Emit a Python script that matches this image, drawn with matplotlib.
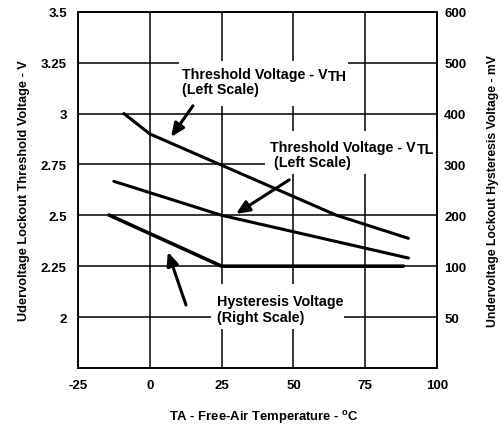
import matplotlib
matplotlib.use("Agg")
import matplotlib.pyplot as plt
from matplotlib.patches import Rectangle

plt.rcParams['font.family'] = ['Liberation Sans', 'DejaVu Sans']
plt.rcParams['font.weight'] = 'bold'
plt.rcParams['axes.labelweight'] = 'bold'
plt.rcParams['mathtext.fontset'] = 'custom'
plt.rcParams['mathtext.rm'] = 'Liberation Sans:bold'
plt.rcParams['mathtext.bf'] = 'Liberation Sans:bold'
plt.rcParams['mathtext.it'] = 'Liberation Sans:bold'

# Data
vth_temp = [-9, 0, 65, 90]
vth_volt = [3.0, 2.90, 2.50, 2.387]
vtl_temp = [-12.5, 25, 90]
vtl_volt = [2.667, 2.50, 2.29]
hyst_temp = [-14, 25, 88]
hyst_mv = [200, 100, 100]

x_ticks = [-25, 0, 25, 50, 75, 100]
left_ticks = [2.0, 2.25, 2.5, 2.75, 3.0, 3.25, 3.5]
left_labels = ['2', '2.25', '2.5', '2.75', '3', '3.25', '3.5']
right_ticks = [0, 100, 200, 300, 400, 500, 600]
right_labels = ['50', '100', '200', '300', '400', '500', '600']

FS = 10.3

fig = plt.figure(figsize=(5.03, 4.27), dpi=100)
ax = fig.add_axes([0.155, 0.136, 0.714, 0.834])
ax.set_xlim(-25, 100)
ax.set_ylim(1.75, 3.5)
ax.set_xticks(x_ticks)
ax.set_xticklabels([str(t) for t in x_ticks], fontweight='bold')
ax.set_yticks([1.75] + left_ticks)
ax.set_yticklabels([''] + left_labels, fontweight='bold')
ax.grid(True, color='black', lw=1.1, zorder=0)
ax.set_axisbelow(True)
ax.tick_params(length=0, labelsize=9.5, pad=8)
for s in ax.spines.values():
    s.set_linewidth(1.1)

# white masks behind the annotations (cover the grid)
for (x0, y0, x1, y1) in [(10.2, 3.038, 69.0, 3.259),
                         (40.1, 2.704, 100.0, 2.915),
                         (21.3, 1.942, 67.6, 2.163)]:
    ax.add_patch(Rectangle((x0, y0), x1 - x0, y1 - y0, facecolor='white',
                           edgecolor='none', zorder=2))

ax.plot(vth_temp, vth_volt, color='black', lw=2.2, zorder=5, solid_capstyle='round')
ax.plot(vtl_temp, vtl_volt, color='black', lw=2.2, zorder=5, solid_capstyle='round')

ax.set_xlabel('TA - Free-Air Temperature - $^{\\mathrm{o}}$C', fontsize=9.4, labelpad=12)
ax.xaxis.label.set_x(0.518)
ax.set_ylabel('Udervoltage Lockout Threshold Voltage - V', fontsize=9.2, labelpad=8)

def label(x, y1, y2, line1, line2, sub=None):
    t = ax.text(x, y1, line1, fontsize=FS, va='center', ha='left', zorder=3)
    ax.text(x, y2, line2, fontsize=FS, va='center', ha='left', zorder=3)
    if sub:
        ax.annotate(sub, xy=(1, 0), xycoords=t, xytext=(0.5, 0.5),
                    textcoords='offset points', fontsize=FS, va='baseline',
                    ha='left', zorder=3)

label(11.2, 3.195, 3.121, 'Threshold Voltage - V', '(Left Scale)', 'TH')
label(41.9, 2.836, 2.763, 'Threshold Voltage - V', ' (Left Scale)', 'TL')
label(23.4, 2.079, 2.0, 'Hysteresis Voltage', '(Right Scale)')

arrow = dict(arrowstyle='-|>,head_length=0.8,head_width=0.35', color='black', lw=2.2,
             shrinkA=0, shrinkB=0)
ax.annotate('', xy=(7.4, 2.885), xytext=(15.0, 3.038), arrowprops=arrow, zorder=6)
ax.annotate('', xy=(30.0, 2.507), xytext=(48.5, 2.674), arrowprops=arrow, zorder=6)
ax.annotate('', xy=(6.3, 2.32), xytext=(12.6, 2.059), arrowprops=arrow, zorder=6)

ax2 = ax.twinx()
ax2.set_ylim(-100, 600)
ax2.set_yticks(right_ticks)
ax2.set_yticklabels(right_labels, fontweight='bold')
ax2.tick_params(length=0, labelsize=9.5, pad=5)
ax2.plot(hyst_temp, hyst_mv, color='black', lw=2.6, zorder=5)
ax2.set_ylabel('Undervoltage Lockout Hysteresis Voltage - mV', fontsize=8.8, labelpad=15)
for s in ax2.spines.values():
    s.set_linewidth(1.1)

fig.savefig('out.png', dpi=100)
